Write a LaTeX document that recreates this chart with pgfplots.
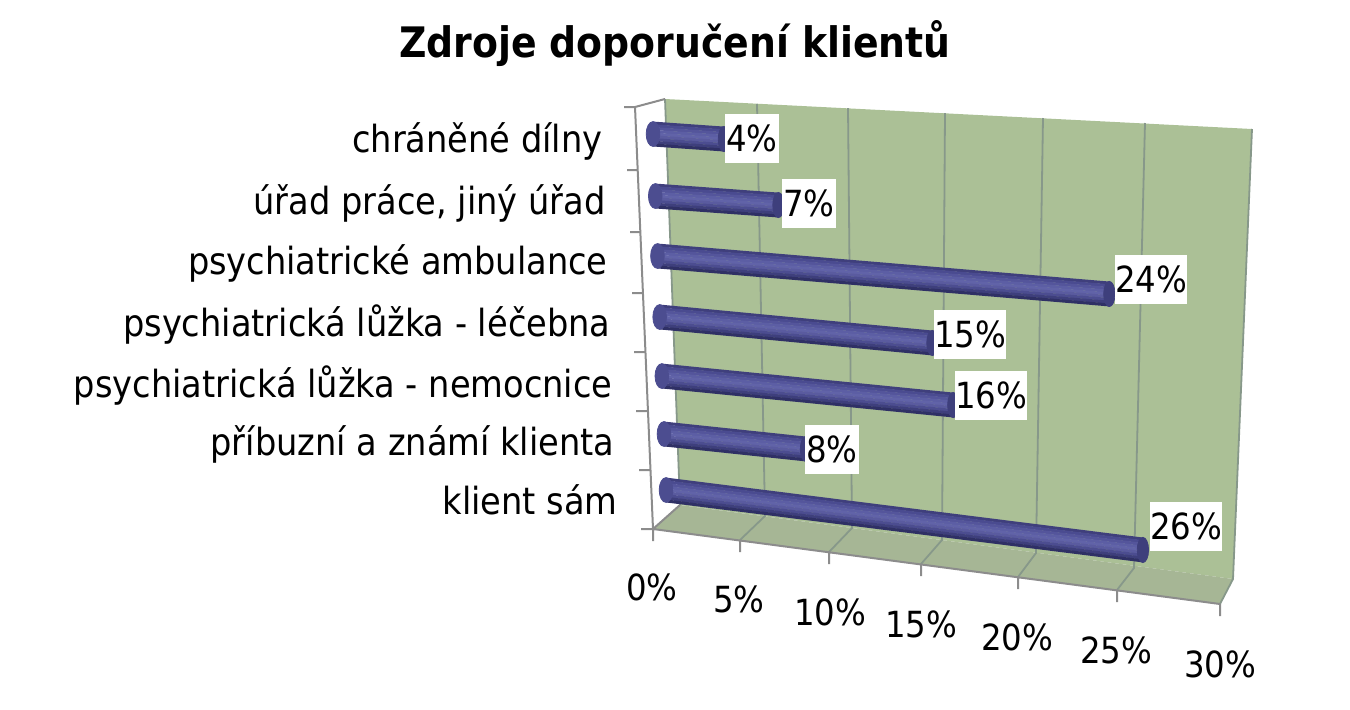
\documentclass[border=0pt]{standalone}
\usepackage{pgfplots}
\usepackage{pgfplotstable}
\usepackage{fontspec}
\setmainfont{DejaVu Sans Condensed}
\pgfplotsset{compat=1.18}
\definecolor{wall}{HTML}{ABC096}
\definecolor{floorc}{HTML}{A6B695}
\definecolor{gridc}{HTML}{87988A}
\definecolor{axisc}{HTML}{8C8C8C}
\definecolor{s1}{HTML}{3F3F7C}
\definecolor{s2}{HTML}{4A4B90}
\definecolor{s3}{HTML}{54559B}
\definecolor{s4}{HTML}{5C5EA4}
\definecolor{s5}{HTML}{6163A8}
\definecolor{s6}{HTML}{5A5B9F}
\definecolor{s7}{HTML}{4C4D90}
\definecolor{s8}{HTML}{3E3F7C}
\definecolor{s9}{HTML}{2F3065}
% value = share in percent, pos = bar position, r = perspective rise
\pgfplotstableread{
v    pos   r
25.5 0.000 -0.022
7.6  0.944 0.042
15.6 1.921 0.116
14.6 2.916 0.128
24.2 3.944 0.298
6.6  4.955 0.104
3.8  6.000 0.063
}\bars
\pgfplotstableread{
px   py  lab
752  138 4
809  203 7
1151 279 24
970  334 15
991  395 16
832  449 8
1186 526 26
}\barlabels
\pgfplotstableread{
px   py  lab
652  587 0
739  599 5
830  612 10
921  624 15
1017 637 20
1116 650 25
1220 664 30
}\ticklabs
\newcommand{\strip}[2]{%
  \addplot[#2,line width=1.5pt,quiver={u=\thisrow{v},v=\thisrow{r}}]
    table[x expr=0,y expr=\thisrow{pos}+#1]{\bars};}
\newcommand{\catlab}[3]{\node[anchor=east,inner sep=0pt,font=\fontsize{18.7}{22}\selectfont] at (axis cs:#1,#2) {#3};}
\pgfplotsset{pix/.style={at={(0,0)},anchor=south west,scale only axis,width=675pt,height=354.5pt,
  xmin=0,xmax=1350,ymin=0,ymax=709,y dir=reverse,hide axis,clip=false}}
\begin{document}
\begin{tikzpicture}
\useasboundingbox (0,0) rectangle (675pt,354.5pt);
\begin{axis}[pix]
\addplot[fill=wall,draw=none] coordinates {(665,99) (1252,129) (1233,579) (680,505)} -- cycle;
\addplot[fill=floorc,draw=none] coordinates {(680,505) (1233,579) (1220,604) (653,529)} -- cycle;
\addplot[gridc,line width=0.9pt,unbounded coords=jump] coordinates {
(665,99) (680,505) (nan,nan)
(757,104) (765,516) (740,540) (nan,nan)
(848,108) (852,528) (829,552) (nan,nan)
(945,113) (942,540) (921,564) (nan,nan)
(1043,118) (1036,553) (1018,577) (nan,nan)
(1145,123) (1134,568) (1117,590) (nan,nan)
(1252,129) (1233,579) (1220,604)
};
\addplot[axisc,line width=1pt,unbounded coords=jump] coordinates {
(665,99) (635,107) (653,529) (680,505) (nan,nan)
(653,529) (1220,604) (nan,nan)
(624,107) (635,107) (nan,nan)
(627,170) (638,170) (nan,nan)
(630,232) (640,232) (nan,nan)
(632,293) (643,293) (nan,nan)
(634,352) (645,352) (nan,nan)
(636,411) (648,411) (nan,nan)
(639,470) (650,470) (nan,nan)
(641,529) (653,529) (nan,nan)
(653,529) (653,541) (nan,nan)
(740,540) (740,552) (nan,nan)
(829,552) (829,564) (nan,nan)
(921,564) (921,576) (nan,nan)
(1018,577) (1018,589) (nan,nan)
(1117,590) (1117,602) (nan,nan)
(1220,604) (1220,616)
};
\node[font=\bfseries\fontsize{21}{25}\selectfont] at (axis cs:675,44) {Zdroje doporučení klientů};
\catlab{603}{141}{chráněné dílny}
\catlab{606}{203}{úřad práce, jiný úřad}
\catlab{608}{263}{psychiatrické ambulance}
\catlab{611}{325}{psychiatrická lůžka - léčebna}
\catlab{613}{386}{psychiatrická lůžka - nemocnice}
\catlab{615}{444}{příbuzní a známí klienta}
\catlab{618}{500}{klient sám}
\addplot[only marks,mark=none,point meta=explicit symbolic,
  nodes near coords={\pgfplotspointmeta\%},
  nodes near coords align={anchor=center},
  every node near coord/.style={anchor=center,inner sep=0pt,font=\fontsize{18}{20}\selectfont}]
  table[x=px,y=py,meta=lab]{\ticklabs};
\end{axis}
\begin{axis}[at={(333pt,109.5pt)},anchor=origin,x={(9.35pt,-1.15pt)},y={(-1.085pt,29.665pt)},
  xmin=-1,xmax=31,ymin=-1,ymax=7,hide axis,clip=false]
\addplot[color=s7,only marks,mark=*,mark size=6.2pt,mark options={xscale=.55,fill=s7,draw=s7}]
  table[x expr=0,y=pos]{\bars};
\strip{0.185}{s1}
\strip{0.139}{s2}
\strip{0.093}{s3}
\strip{0.046}{s4}
\strip{0}{s5}
\strip{-0.046}{s6}
\strip{-0.093}{s7}
\strip{-0.139}{s8}
\strip{-0.185}{s9}
\addplot[color=s8,only marks,mark=*,mark size=6.3pt,mark options={xscale=.45,fill=s8,draw=s8}]
  table[x=v,y expr=\thisrow{pos}+\thisrow{r}]{\bars};
\end{axis}
\begin{axis}[pix]
\addplot[only marks,mark=none,point meta=explicit symbolic,
  nodes near coords={\pgfplotspointmeta\%},
  nodes near coords align={anchor=center},
  every node near coord/.style={anchor=center,fill=white,inner sep=0pt,
    minimum height=24.5pt,minimum width=27pt,font=\fontsize{18}{20}\selectfont}]
  table[x=px,y=py,meta=lab]{\barlabels};
\end{axis}
\end{tikzpicture}
\end{document}
